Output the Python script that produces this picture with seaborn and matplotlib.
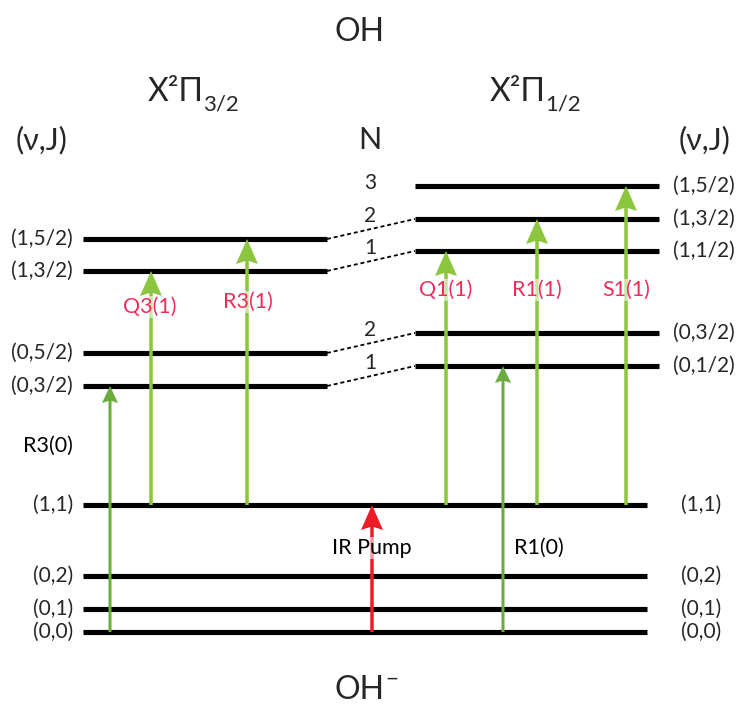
import numpy   as np
import pandas  as pd
import seaborn as sns

from matplotlib import pyplot as plt

sns.set_theme(style="white")
plt.rcParams['font.family'] = ['Lato', 'DejaVu Sans']

# energy levels (arbitrary units)
anion_states   = ['(0,0)', '(0,1)', '(0,2)', '(1,1)']
anion_E        = [0, 23, 56, 127]

pi32_states    = ['(0,3/2)', '(0,5/2)', '(1,3/2)', '(1,5/2)']
pi32_E         = [246, 279, 361, 393]
pi32_N         = [1, 2, 1, 2]

pi12_states    = ['(0,1/2)', '(0,3/2)', '(1,1/2)', '(1,3/2)', '(1,5/2)']
pi12_E         = [266, 299, 381, 413, 446]
pi12_N         = [1, 2, 1, 2, 3]

# transitions: name, lower anion state, upper manifold, upper state
trans_names    = ['R3(0)', 'Q3(1)', 'R3(1)', 'IR Pump', 'R1(0)', 'Q1(1)', 'R1(1)', 'S1(1)']
trans_lower    = ['(0,0)', '(1,1)', '(1,1)', '(0,0)', '(0,0)', '(1,1)', '(1,1)', '(1,1)']
trans_manifold = ['pi32',  'pi32',  'pi32',  'anion', 'pi12',  'pi12',  'pi12',  'pi12']
trans_upper    = ['(0,3/2)', '(1,3/2)', '(1,5/2)', '(1,1)', '(0,1/2)', '(1,1/2)', '(1,3/2)', '(1,5/2)']

# ---- layout -----------------------------------------------------------
LIGHT, DARK, RED, PINK = '#8cc63f', '#6aac3e', '#ed1c24', '#ec2d5c'
cols   = {'anion':(83,647), 'pi32':(83,327), 'pi12':(415,659)}
arr_x  = {'R3(0)':110, 'Q3(1)':151, 'R3(1)':247, 'IR Pump':372,
          'R1(0)':503, 'Q1(1)':446, 'R1(1)':537, 'S1(1)':626}
lab_xy = {'R3(0)':(48,186), 'Q3(1)':(150,325), 'R3(1)':(248,330), 'IR Pump':(372,84),
          'R1(0)':(539,84), 'Q1(1)':(446,342), 'R1(1)':(537,342), 'S1(1)':(626,342)}

energies = {'anion':dict(zip(anion_states,anion_E)),
            'pi32' :dict(zip(pi32_states ,pi32_E )),
            'pi12' :dict(zip(pi12_states ,pi12_E ))}

rows = []
for man,levels in energies.items():
    for st,E in levels.items():
        for x in cols[man]:
            rows.append( dict(x=x, E=E, level=man+st) )
levels_df = pd.DataFrame(rows)

fig = plt.figure( figsize=(7.4,7.04), dpi=100 )
ax  = fig.add_axes( [0,0,1,1] )

sns.lineplot( data=levels_df, x='x', y='E', units='level', estimator=None,
              sort=False, color='black', linewidth=3.7, legend=False, ax=ax,
              solid_capstyle='butt', zorder=2 )

# dashed connectors between states of equal (v,N)
for st32,E32,N32 in zip(pi32_states,pi32_E,pi32_N):
    for st12,E12,N12 in zip(pi12_states,pi12_E,pi12_N):
        if st32[1]==st12[1] and N32==N12:
            ax.plot( [cols['pi32'][1],cols['pi12'][0]], [E32,E12], color='black',
                     lw=1.3, ls=(0,(2.2,1.6)), zorder=1 )

# state labels
fs = 15
for st,E in zip(anion_states,anion_E):
    ax.text( 73, E, st, ha='right', va='center', fontsize=fs )
    ax.text( 681, E, st, ha='left', va='center', fontsize=fs )
for st,E in zip(pi32_states,pi32_E):
    ax.text( 73, E, st, ha='right', va='center', fontsize=fs )
for st,E,N in zip(pi12_states,pi12_E,pi12_N):
    ax.text( 673, E, st, ha='left', va='center', fontsize=fs )
    ax.text( 370, E+3, str(N), ha='center', va='center', fontsize=fs )

# transitions
for name,lo,man,up in zip(trans_names,trans_lower,trans_manifold,trans_upper):
    y0 = energies['anion'][lo]
    y1 = energies[man][up]
    if name=='IR Pump':
        c, w, hw, hl, tc = RED, 3.5, 22, 25, 'black'
    elif lo=='(0,0)':
        c, w, hw, hl, tc = DARK, 3.0, 16, 17, 'black'
    else:
        c, w, hw, hl, tc = LIGHT, 3.5, 22, 25, PINK
    ax.arrow( arr_x[name], y0, 0, y1-y0, width=w, head_width=hw, head_length=hl,
              length_includes_head=True, color=c, lw=0, overhang=0.12, zorder=3 )
    lx,ly = lab_xy[name]
    ax.text( lx, ly, name, ha='center', va='center', fontsize=15.5, color=tc, zorder=4,
             bbox=dict(facecolor='white', alpha=0.55, edgecolor='none', pad=0.5) )

# headers
big = 23
ax.text( 360, 600, 'OH', ha='center', va='center', fontsize=big )
for x,sub in [(176,'3/2'),(518,'1/2')]:
    t = ax.text( x, 540, 'X²Π', ha='center', va='center', fontsize=big )
    ax.annotate( sub, xy=(0.98,0.08), xycoords=t, ha='left', va='center', fontsize=16 )
ax.text( 42 , 492, '(ν,J)', ha='center', va='center', fontsize=22 )
ax.text( 705, 492, '(ν,J)', ha='center', va='center', fontsize=22 )
ax.text( 370, 492, 'N', ha='center', va='center', fontsize=22 )
t = ax.text( 360, -58, 'OH', ha='center', va='center', fontsize=big )
ax.annotate( '−', xy=(1.0,0.85), xycoords=t, ha='left', va='center', fontsize=16 )

ax.set_xlim( 0,740 )
ax.set_ylim( -72,632 )
ax.axis('off')

fig.savefig( 'out.png', dpi=100 )
